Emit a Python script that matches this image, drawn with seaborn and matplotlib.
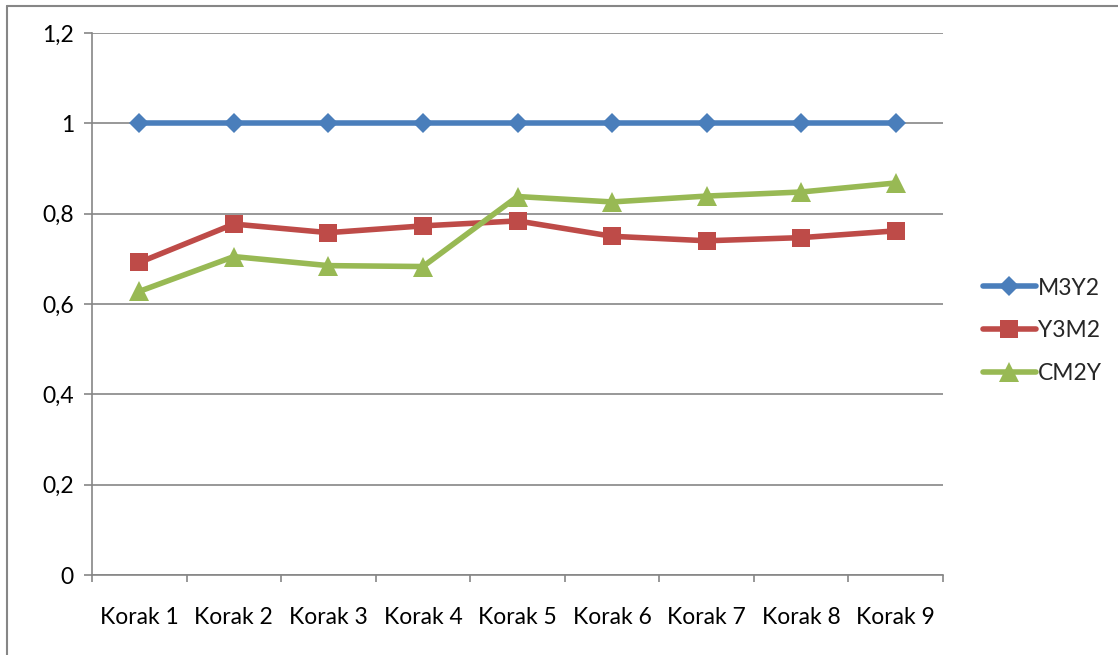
"""Korak comparison chart: M3Y2 / Y3M2 / CM2Y line plot."""

import matplotlib.pyplot as plt
from matplotlib.lines import Line2D
import pandas as pd
import seaborn as sns

STEPS = ["Korak 1", "Korak 2", "Korak 3", "Korak 4", "Korak 5",
         "Korak 6", "Korak 7", "Korak 8", "Korak 9"]
M3Y2 = [1, 1, 1, 1, 1, 1, 1, 1, 1]
Y3M2 = [0.692, 0.777, 0.758, 0.773, 0.784, 0.750, 0.740, 0.747, 0.762]
CM2Y = [0.628, 0.705, 0.685, 0.683, 0.838, 0.826, 0.839, 0.848, 0.868]
Y_TICKS = [0, 0.2, 0.4, 0.6, 0.8, 1.0, 1.2]
Y_LABELS = ["0", "0,2", "0,4", "0,6", "0,8", "1", "1,2"]

SERIES = {"M3Y2": M3Y2, "Y3M2": Y3M2, "CM2Y": CM2Y}
COLORS = {"M3Y2": "#4A7EBB", "Y3M2": "#BE4B48", "CM2Y": "#98B954"}
MARKERS = {"M3Y2": "D", "Y3M2": "s", "CM2Y": "^"}
SIZES = {"M3Y2": 10, "Y3M2": 13.5, "CM2Y": 14}
GRID = "#868686"
FS = 16.5

rows = []
for name, vals in SERIES.items():
    for i, v in enumerate(vals):
        rows.append({"pos": i, "step": STEPS[i], "value": v, "series": name})
df = pd.DataFrame(rows)

sns.set_theme(style="white")
plt.rcParams["font.family"] = ["Lato", "DejaVu Sans"]

fig = plt.figure(figsize=(11.18, 6.55), dpi=100)
ax = fig.add_axes([0.0823, 0.1221, 0.7612, 0.8275])

for name in SERIES:
    sub = df[df["series"] == name]
    sns.lineplot(
        data=sub, x="pos", y="value", ax=ax, color=COLORS[name],
        marker=MARKERS[name], markersize=SIZES[name], markeredgewidth=0,
        linewidth=4, label=name, errorbar=None,
    )

ax.set_xlim(-0.5, len(STEPS) - 0.5)
ax.set_ylim(0, 1.2)
ax.set_yticks(Y_TICKS)
ax.set_yticklabels(Y_LABELS, fontsize=FS)
ax.set_xticks(range(len(STEPS)))
ax.set_xticklabels(STEPS, fontsize=FS)
ax.set_xticks([i - 0.5 for i in range(len(STEPS) + 1)], minor=True)
ax.tick_params(axis="x", which="major", length=0, pad=23)
ax.tick_params(axis="x", which="minor", length=5, color=GRID, width=1.2,
               bottom=True)
ax.tick_params(axis="y", length=6, color=GRID, width=1.2, pad=7, left=True)
ax.set_xlabel("")
ax.set_ylabel("")

ax.yaxis.grid(True, color=GRID, linewidth=1.2)
ax.set_axisbelow(True)
for side in ["top", "right"]:
    ax.spines[side].set_visible(False)
for side in ["left", "bottom"]:
    ax.spines[side].set_color(GRID)
    ax.spines[side].set_linewidth(1.2)
for lbl in ax.get_xticklabels() + ax.get_yticklabels():
    lbl.set_color("black")

ax.get_legend().remove()
handles, labels = ax.get_legend_handles_labels()
fig.legend(handles, labels, loc="center left", bbox_to_anchor=(0.869, 0.495),
           frameon=False, fontsize=FS, labelspacing=0.95, handlelength=2.3,
           handletextpad=0.1, borderpad=0)

# outer chart frame (left and top edges visible in the crop)
fig.add_artist(Line2D([0.0065, 0.0065], [0, 0.991], transform=fig.transFigure,
                      color=GRID, linewidth=1.5))
fig.add_artist(Line2D([0.0065, 1.0], [0.991, 0.991], transform=fig.transFigure,
                      color=GRID, linewidth=1.5))

fig.savefig("out.png", dpi=100, facecolor="white")
